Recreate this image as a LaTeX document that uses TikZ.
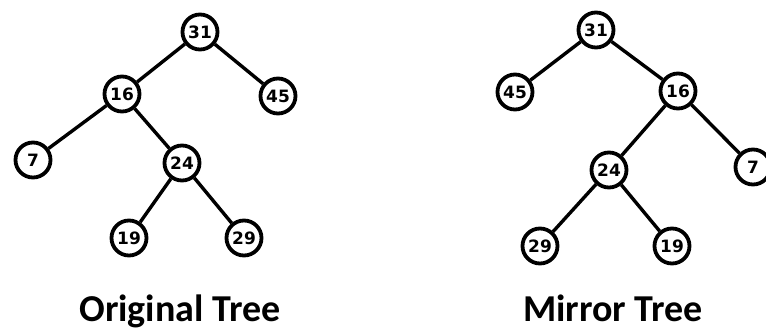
\documentclass[tikz,border=0pt]{standalone}
\usepackage{fontspec}
\setmainfont{Carlito}
\newfontfamily\numfont{DejaVu Sans}
\begin{document}
\begin{tikzpicture}[x=1pt,y=-1pt,
  treenode/.style={circle,draw=black,line width=3.8pt,minimum size=35pt,inner sep=0pt,fill=white,font=\numfont\bfseries\fontsize{17}{17}\selectfont},
  edge/.style={line width=3.4pt,black},
  caption/.style={font=\bfseries\fontsize{38}{38}\selectfont,anchor=base}]
\clip (0,0) rectangle (766,331);
\useasboundingbox (0,0) rectangle (766,331);
% Original tree
\node[treenode] (a31) at (200,32) {31};
\node[treenode] (a16) at (122,94) {16};
\node[treenode] (a45) at (278,96) {45};
\node[treenode] (a7) at (33,160) {7};
\node[treenode] (a24) at (182,163) {24};
\node[treenode] (a19) at (129,238) {19};
\node[treenode] (a29) at (244,238) {29};
\draw[edge] (a31) -- (a16);
\draw[edge] (a31) -- (a45);
\draw[edge] (a16) -- (a7);
\draw[edge] (a16) -- (a24);
\draw[edge] (a24) -- (a19);
\draw[edge] (a24) -- (a29);
% Mirror tree
\node[treenode] (b31) at (596,30) {31};
\node[treenode] (b45) at (515,92) {45};
\node[treenode] (b16) at (678,91) {16};
\node[treenode] (b24) at (609,170) {24};
\node[treenode] (b7) at (753,167) {7};
\node[treenode] (b29) at (540,246) {29};
\node[treenode] (b19) at (672,246) {19};
\draw[edge] (b31) -- (b45);
\draw[edge] (b31) -- (b16);
\draw[edge] (b16) -- (b24);
\draw[edge] (b16) -- (b7);
\draw[edge] (b24) -- (b29);
\draw[edge] (b24) -- (b19);
% Captions
\node[caption] (capa) at (180,321) {Original Tree};
\node[caption] (capb) at (613,321) {Mirror Tree};
\end{tikzpicture}
\end{document}
